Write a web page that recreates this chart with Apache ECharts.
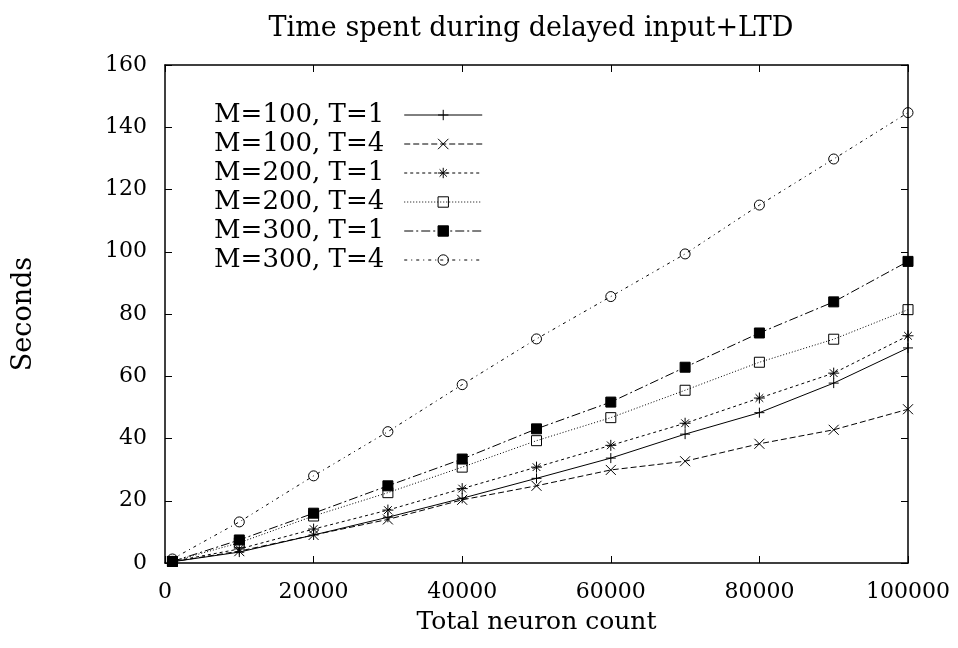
<!DOCTYPE html>
<html>
<head>
<meta charset="utf-8">
<script src="https://cdn.jsdelivr.net/npm/echarts@6/dist/echarts.min.js"></script>
<style>
html,body{margin:0;padding:0;background:#fff;}
#chart{width:958px;height:648px;}
</style>
</head>
<body>
<div id="chart"></div>
<script>
// ---- data ----
var neuronCounts = [1000, 10000, 20000, 30000, 40000, 50000, 60000, 70000, 80000, 90000, 100000];
var m100t1 = [0.4, 3.5, 9.0, 14.7, 20.8, 27.2, 33.7, 41.4, 48.3, 57.8, 69.1];
var m100t4 = [0.4, 3.8, 9.0, 14.0, 20.3, 24.8, 29.9, 32.7, 38.3, 42.8, 49.4];
var m200t1 = [0.5, 4.5, 10.9, 17.0, 23.9, 30.8, 37.8, 44.9, 53.0, 61.0, 73.0];
var m200t4 = [0.5, 6.5, 15.1, 22.6, 30.8, 39.3, 46.7, 55.5, 64.5, 71.9, 81.4];
var m300t1 = [0.5, 7.4, 16.0, 24.8, 33.4, 43.1, 51.7, 62.9, 73.9, 83.9, 96.9];
var m300t4 = [1.3, 13.2, 28.0, 42.2, 57.3, 72.0, 85.6, 99.3, 115.0, 129.8, 144.7];
var seriesNames = ['M=100, T=1', 'M=100, T=4', 'M=200, T=1', 'M=200, T=4', 'M=300, T=1', 'M=300, T=4'];
var titleText = 'Time spent during delayed input+LTD';
var xName = 'Total neuron count';
var yName = 'Seconds';

function pairs(vals) {
  return neuronCounts.map(function (x, i) { return [x, vals[i]]; });
}

var FONT = 'DejaVu Serif';
var styles = [
  { data: m100t1, symbol: 'path://M0,5L10,5M5,0L5,10', fill: '#000', dash: 'solid', size: 10 },
  { data: m100t4, symbol: 'path://M0,0L10,10M0,10L10,0', fill: '#000', dash: [6, 3], size: 10 },
  { data: m200t1, symbol: 'path://M0,5L10,5M5,0L5,10M1.5,1.5L8.5,8.5M1.5,8.5L8.5,1.5', fill: '#000', dash: [3, 3], size: 11 },
  { data: m200t4, symbol: 'path://M0,0L10,0L10,10L0,10Z', fill: 'rgba(0,0,0,0)', dash: [1, 2], size: 10 },
  { data: m300t1, symbol: 'rect', fill: '#000', dash: [9, 3, 2, 3], size: 10 },
  { data: m300t4, symbol: 'circle', fill: 'rgba(0,0,0,0)', dash: [3, 4, 1, 4], size: 10 }
];

var series = styles.map(function (s, i) {
  return {
    name: seriesNames[i],
    type: 'line',
    xAxisIndex: 0,
    yAxisIndex: 0,
    data: pairs(s.data),
    symbol: s.symbol,
    symbolSize: s.size,
    showAllSymbol: true,
    lineStyle: { color: '#000', width: 1, type: s.dash },
    itemStyle: { color: s.fill, borderColor: '#000', borderWidth: 1 },
    emphasis: { disabled: true },
    z: 3
  };
});

var axisCommonX = {
  type: 'value', min: 0, max: 100000, interval: 20000,
  splitLine: { show: false },
  axisLine: { show: true, onZero: false, lineStyle: { color: '#000', width: 1.5 } },
  axisTick: { show: true, inside: true, length: 7, lineStyle: { color: '#000', width: 1 } }
};
var axisCommonY = {
  type: 'value', min: 0, max: 160, interval: 20,
  splitLine: { show: false },
  axisLine: { show: true, onZero: false, lineStyle: { color: '#000', width: 1.5 } },
  axisTick: { show: true, inside: true, length: 7, lineStyle: { color: '#000', width: 1 } }
};

var option = {
  animation: false,
  backgroundColor: '#fff',
  title: {
    text: titleText,
    left: 526, top: 10, textAlign: 'center',
    textStyle: { fontFamily: FONT, fontSize: 27, fontWeight: 'normal', color: '#000' }
  },
  legend: {
    orient: 'vertical',
    align: 'right',
    left: 209, top: 97,
    itemWidth: 78, itemHeight: 13, itemGap: 3,
    itemStyle: { borderWidth: 1 },
    lineStyle: { width: 1 },
    textStyle: { fontFamily: FONT, fontSize: 26, color: '#000', padding: [0, 15, 0, 0] },
    data: seriesNames
  },
  grid: { left: 165, right: 50, top: 65, bottom: 85, containLabel: false },
  xAxis: [
    Object.assign({}, axisCommonX, {
      position: 'bottom',
      name: xName, nameLocation: 'middle', nameGap: 47,
      nameTextStyle: { fontFamily: FONT, fontSize: 25, color: '#000' },
      axisLabel: { show: true, margin: 18, fontFamily: FONT, fontSize: 22, color: '#000',
        formatter: function (v) { return String(v); } }
    }),
    Object.assign({}, axisCommonX, {
      position: 'top',
      axisLabel: { show: false }
    })
  ],
  yAxis: [
    Object.assign({}, axisCommonY, {
      position: 'left',
      name: yName, nameLocation: 'middle', nameGap: 128, nameRotate: 90,
      nameTextStyle: { fontFamily: FONT, fontSize: 27, color: '#000' },
      axisLabel: { show: true, margin: 18, fontFamily: FONT, fontSize: 22, color: '#000',
        formatter: function (v) { return String(v); } }
    }),
    Object.assign({}, axisCommonY, {
      position: 'right',
      axisLabel: { show: false }
    })
  ],
  series: series
};

var chart = echarts.init(document.getElementById('chart'), null, { renderer: 'canvas' });
chart.setOption(option);
</script>
</body>
</html>
